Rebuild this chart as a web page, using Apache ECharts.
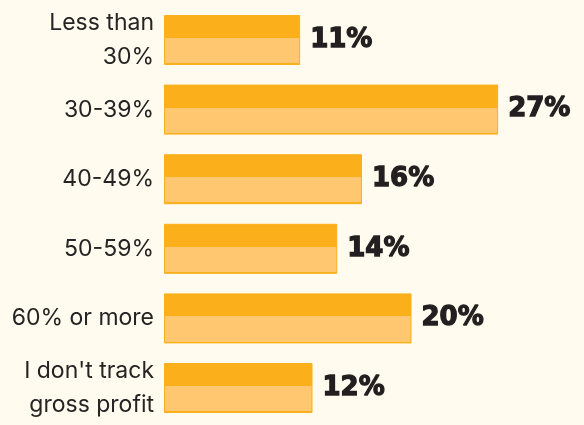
<!DOCTYPE html>
<html>
<head>
<meta charset="utf-8">
<script src="https://cdn.jsdelivr.net/npm/echarts@6/dist/echarts.min.js"></script>
<style>
html,body{margin:0;padding:0;background:#FFFBEF;}
#chart{width:584px;height:425px;}
</style>
</head>
<body>
<div id="chart"></div>
<script>
var categories = ["Less than\n30%", "30-39%", "40-49%", "50-59%", "60% or more", "I don't track\ngross profit"];
var values = [11, 27, 16, 14, 20, 12];

var dark = '#FBAF1A';
var light = '#FFC870';

var chart = echarts.init(document.getElementById('chart'), null, {renderer: 'canvas'});
chart.setOption({
  backgroundColor: '#FFFBEF',
  animation: false,
  grid: {left: 164, right: 48.75, top: 5.2, bottom: 2.2, containLabel: false},
  xAxis: {
    type: 'value', min: 0, max: 30, show: false
  },
  yAxis: {
    type: 'category', data: categories, inverse: true,
    axisLine: {show: false}, axisTick: {show: false}, splitLine: {show: false},
    axisLabel: {
      margin: 10, color: '#262324', fontFamily: 'Inter', fontSize: 23,
      lineHeight: 34, align: 'right'
    }
  },
  series: [{
    type: 'bar',
    data: values,
    barWidth: 50,
    itemStyle: {
      color: new echarts.graphic.LinearGradient(0, 0, 0, 1, [
        {offset: 0, color: dark},
        {offset: 0.46, color: dark},
        {offset: 0.46, color: light},
        {offset: 0.965, color: light},
        {offset: 0.965, color: dark},
        {offset: 1, color: dark}
      ]),
      borderColor: dark,
      borderWidth: 1
    },
    label: {
      show: true, position: 'right', distance: 10,
      formatter: '{c}%',
      fontFamily: 'DejaVu Sans', fontWeight: 'bold', fontSize: 26, color: '#231F20',
      textBorderColor: '#231F20', textBorderWidth: 1.3
    }
  }]
});
</script>
</body>
</html>
